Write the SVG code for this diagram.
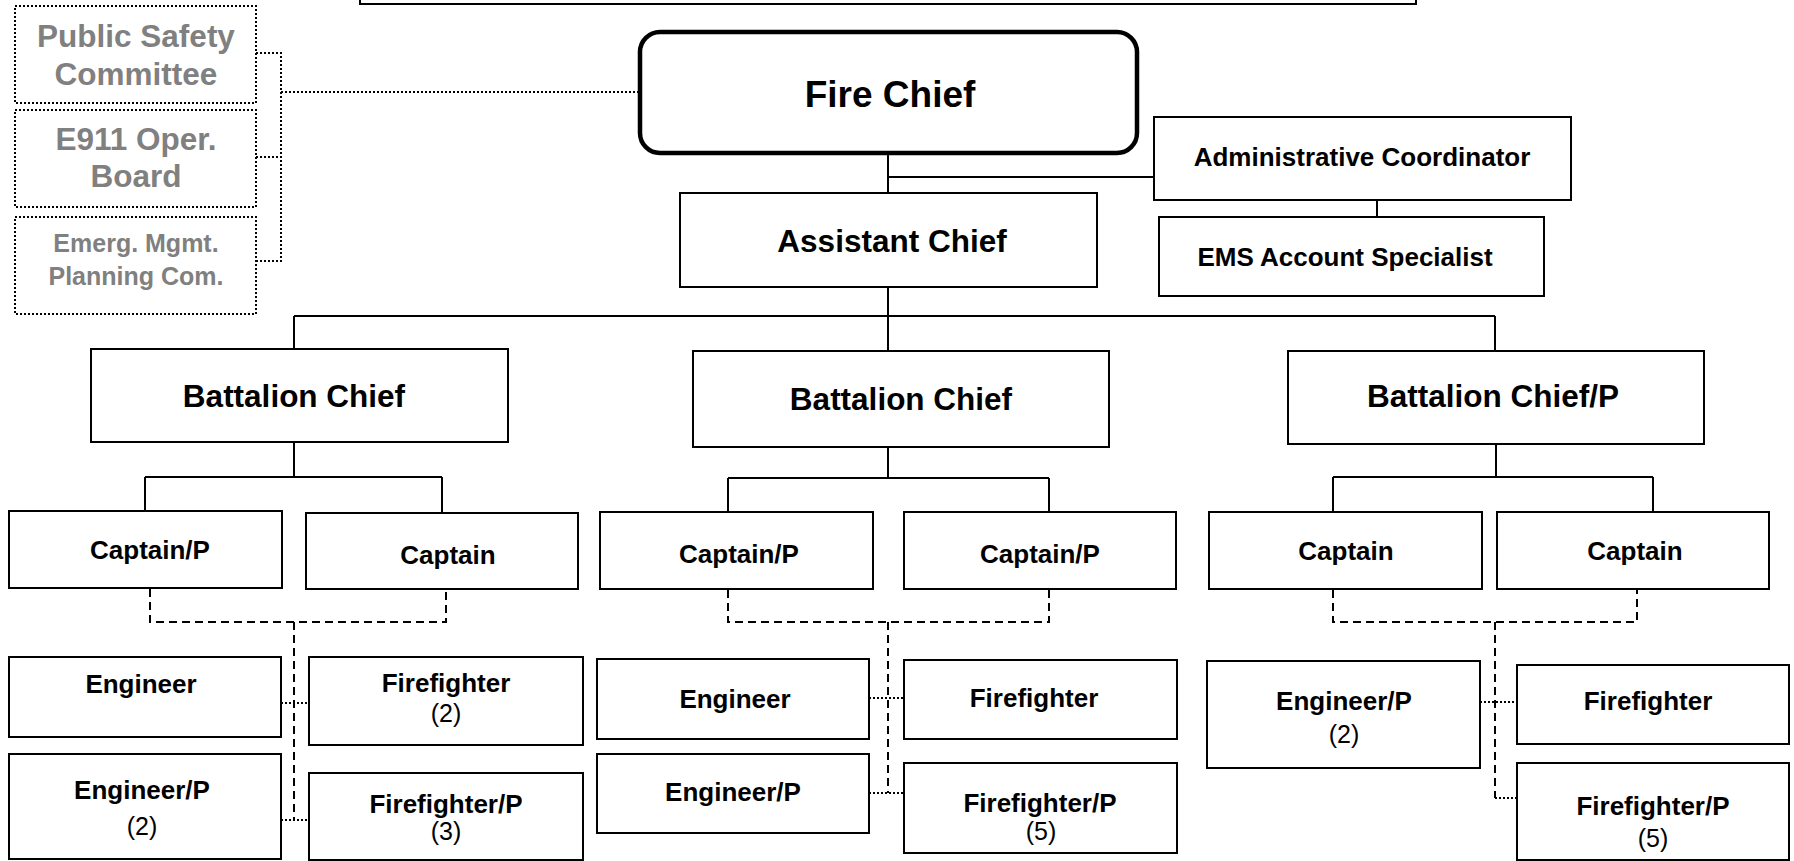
<svg xmlns="http://www.w3.org/2000/svg" width="1794" height="861" viewBox="0 0 1794 861">
<style>
.box{fill:#fff;stroke:#000;stroke-width:2}
.cbox{fill:#fff;stroke:#000;stroke-width:2;stroke-dasharray:2 2}
.chief{fill:#fff;stroke:#000;stroke-width:4.5}
text{font-family:"Liberation Sans",Arial,Helvetica,sans-serif;font-weight:bold;text-anchor:middle;fill:#000}
.s{font-size:26px}
.m{font-size:31.5px}
.l{font-size:37px}
.n{font-size:25px;font-weight:normal}
.g{fill:#808080}
.g1{font-size:31.5px}
.g2{font-size:25px}
.ln{fill:none;stroke:#000;stroke-width:2}
.dash{stroke-dasharray:8 5}
.dot{stroke-dasharray:2 2}
</style>
<rect width="1794" height="861" fill="#fff"/>
<g id="connectors">
  <path class="ln dot" d="M256,53 H281 V261 H256 M256,157 H281 M281,92 H640"/>
  <path class="ln" d="M888,153 V193 M888,177 H1154 M1377,200 V217 M888,287 V316 M294,316 H1495 M294,316 V349 M888,316 V351 M1495,316 V351"/>
  <path class="ln" d="M294,442 V477 M145,477 H442 M145,477 V511 M442,477 V513"/>
  <path class="ln" d="M888,447 V478 M728,478 H1049 M728,478 V512 M1049,478 V512"/>
  <path class="ln" d="M1496,444 V477 M1333,477 H1653 M1333,477 V512 M1653,477 V512"/>
  <path class="ln dash" d="M150,589 V622 H446 V590 M294,622 V820"/>
  <path class="ln dash" d="M728,590 V622 H1049 V590 M888,622 V793"/>
  <path class="ln dash" d="M1333,590 V622 H1637 V590 M1495,622 V798"/>
  <path class="ln dot" d="M281,703 H309 M281,820 H309 M869,698 H904 M869,793 H904 M1480,702 H1517 M1495,798 H1517"/>
</g>
<g id="top-box"><rect class="box" x="360" y="-20" width="1056" height="24"/></g>
<g id="public-safety"><rect class="cbox" x="15" y="6" width="241" height="97"/>
  <text class="g g1" x="136" y="47">Public Safety</text><text class="g g1" x="136" y="85">Committee</text></g>
<g id="e911"><rect class="cbox" x="15" y="110" width="241" height="97"/>
  <text class="g g1" x="136" y="150">E911 Oper.</text><text class="g g1" x="136" y="187">Board</text></g>
<g id="emerg"><rect class="cbox" x="15" y="217" width="241" height="97"/>
  <text class="g g2" x="136" y="252">Emerg. Mgmt.</text><text class="g g2" x="136" y="285">Planning Com.</text></g>
<g id="fire-chief"><rect class="chief" x="640" y="32" width="497" height="121" rx="20"/>
  <text class="l" x="890" y="107">Fire Chief</text></g>
<g id="admin"><rect class="box" x="1154" y="117" width="417" height="83"/>
  <text class="s" x="1362" y="166">Administrative Coordinator</text></g>
<g id="ems"><rect class="box" x="1159" y="217" width="385" height="79"/>
  <text class="s" x="1345" y="266">EMS Account Specialist</text></g>
<g id="assistant"><rect class="box" x="680" y="193" width="417" height="94"/>
  <text class="m" x="892" y="252">Assistant Chief</text></g>
<g id="bc1"><rect class="box" x="91" y="349" width="417" height="93"/>
  <text class="m" x="294" y="407">Battalion Chief</text></g>
<g id="bc2"><rect class="box" x="693" y="351" width="416" height="96"/>
  <text class="m" x="901" y="410">Battalion Chief</text></g>
<g id="bc3"><rect class="box" x="1288" y="351" width="416" height="93"/>
  <text class="m" x="1493" y="407">Battalion Chief/P</text></g>
<g id="cap1a"><rect class="box" x="9" y="511" width="273" height="77"/>
  <text class="s" x="150" y="559">Captain/P</text></g>
<g id="cap1b"><rect class="box" x="306" y="513" width="272" height="76"/>
  <text class="s" x="448" y="564">Captain</text></g>
<g id="cap2a"><rect class="box" x="600" y="512" width="273" height="77"/>
  <text class="s" x="739" y="563">Captain/P</text></g>
<g id="cap2b"><rect class="box" x="904" y="512" width="272" height="77"/>
  <text class="s" x="1040" y="563">Captain/P</text></g>
<g id="cap3a"><rect class="box" x="1209" y="512" width="273" height="77"/>
  <text class="s" x="1346" y="560">Captain</text></g>
<g id="cap3b"><rect class="box" x="1497" y="512" width="272" height="77"/>
  <text class="s" x="1635" y="560">Captain</text></g>
<g id="eng1"><rect class="box" x="9" y="657" width="272" height="80"/>
  <text class="s" x="141" y="693">Engineer</text></g>
<g id="engp1"><rect class="box" x="9" y="754" width="272" height="105"/>
  <text class="s" x="142" y="799">Engineer/P</text><text class="n" x="142" y="835">(2)</text></g>
<g id="ff1"><rect class="box" x="309" y="657" width="274" height="88"/>
  <text class="s" x="446" y="692">Firefighter</text><text class="n" x="446" y="722">(2)</text></g>
<g id="ffp1"><rect class="box" x="309" y="773" width="274" height="87"/>
  <text class="s" x="446" y="813">Firefighter/P</text><text class="n" x="446" y="840">(3)</text></g>
<g id="eng2"><rect class="box" x="597" y="659" width="272" height="80"/>
  <text class="s" x="735" y="708">Engineer</text></g>
<g id="engp2"><rect class="box" x="597" y="754" width="272" height="79"/>
  <text class="s" x="733" y="801">Engineer/P</text></g>
<g id="ff2"><rect class="box" x="904" y="660" width="273" height="79"/>
  <text class="s" x="1034" y="707">Firefighter</text></g>
<g id="ffp2"><rect class="box" x="904" y="763" width="273" height="90"/>
  <text class="s" x="1040" y="812">Firefighter/P</text><text class="n" x="1041" y="840">(5)</text></g>
<g id="engp3"><rect class="box" x="1207" y="661" width="273" height="107"/>
  <text class="s" x="1344" y="710">Engineer/P</text><text class="n" x="1344" y="743">(2)</text></g>
<g id="ff3"><rect class="box" x="1517" y="665" width="272" height="79"/>
  <text class="s" x="1648" y="710">Firefighter</text></g>
<g id="ffp3"><rect class="box" x="1517" y="763" width="272" height="97"/>
  <text class="s" x="1653" y="815">Firefighter/P</text><text class="n" x="1653" y="847">(5)</text></g>
</svg>
